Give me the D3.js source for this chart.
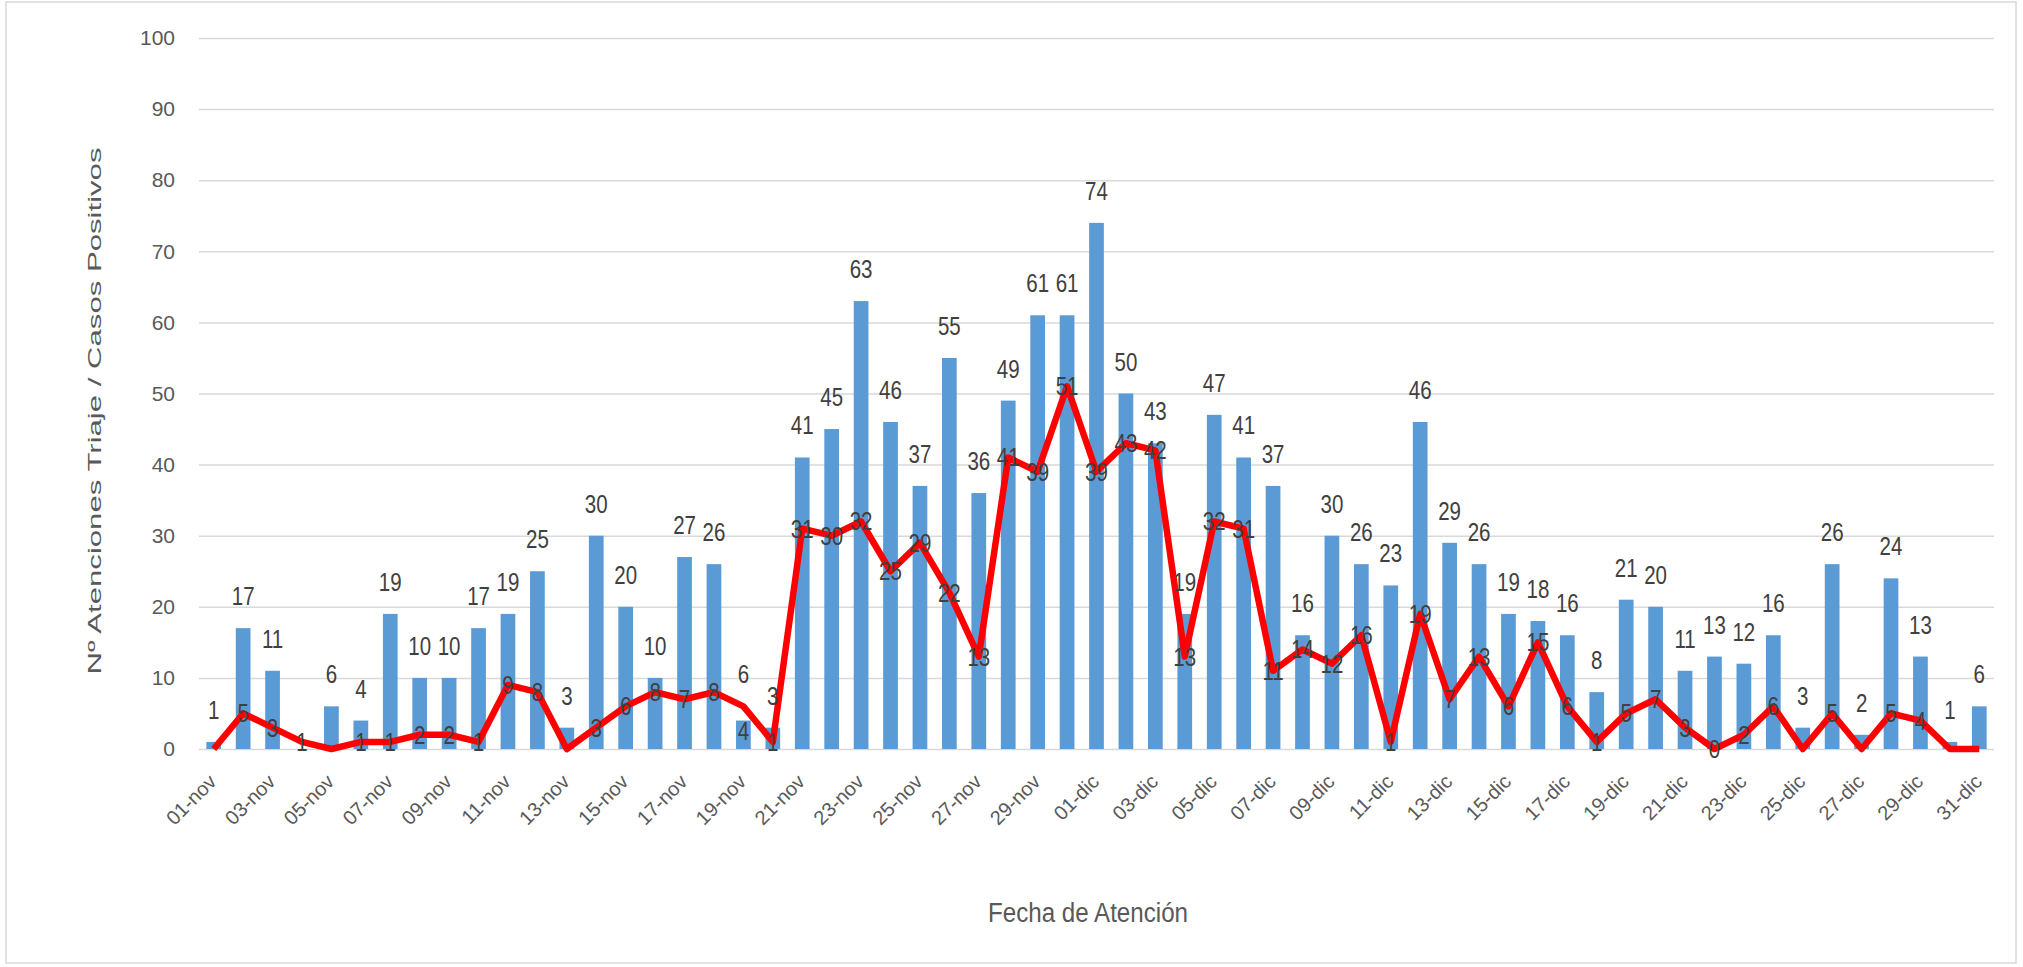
<!DOCTYPE html>
<html>
<head>
<meta charset="utf-8">
<script src="https://cdn.jsdelivr.net/npm/d3@7"></script>
<style>
  body { margin: 0; background: #fff; }
  svg { display: block; }
</style>
</head>
<body>
<svg width="2023" height="967"></svg>
<script>
// dias de atencion
const days = [
  "01-nov","02-nov","03-nov","04-nov","05-nov","06-nov","07-nov","08-nov","09-nov","10-nov",
  "11-nov","12-nov","13-nov","14-nov","15-nov","16-nov","17-nov","18-nov","19-nov","20-nov",
  "21-nov","22-nov","23-nov","24-nov","25-nov","26-nov","27-nov","28-nov","29-nov","30-nov",
  "01-dic","02-dic","03-dic","04-dic","05-dic","06-dic","07-dic","08-dic","09-dic","10-dic",
  "11-dic","12-dic","13-dic","14-dic","15-dic","16-dic","17-dic","18-dic","19-dic","20-dic",
  "21-dic","22-dic","23-dic","24-dic","25-dic","26-dic","27-dic","28-dic","29-dic","30-dic","31-dic"
];
// atenciones triaje (barras)
const atenciones = [
  1,17,11,0,6,4,19,10,10,17,
  19,25,3,30,20,10,27,26,4,3,
  41,45,63,46,37,55,36,49,61,61,
  74,50,43,19,47,41,37,16,30,26,
  23,46,29,26,19,18,16,8,21,20,
  11,13,12,16,3,26,2,24,13,1,6
];
// casos positivos (linea)
const positivos = [
  0,5,3,1,0,1,1,2,2,1,
  9,8,0,3,6,8,7,8,6,1,
  31,30,32,25,29,22,13,41,39,51,
  39,43,42,13,32,31,11,14,12,16,
  1,19,7,13,6,15,6,1,5,7,
  3,0,2,6,0,5,0,5,4,0,0
];
const zeroLabelDays = ["22-dic"];
const yTicks = [0,10,20,30,40,50,60,70,80,90,100];

const svg = d3.select("svg");
const plotLeft = 199, plotRight = 1994, plotTop = 38, plotBottom = 749;
const font = "'Liberation Sans', Arial, sans-serif";

svg.append("rect")
  .attr("x", 6).attr("y", 2).attr("width", 2010).attr("height", 961)
  .attr("fill", "#fff").attr("stroke", "#d9d9d9").attr("stroke-width", 1.5);

const x = d3.scaleBand().domain(days).range([plotLeft, plotRight])
  .paddingInner(0.5).paddingOuter(0.25);
const y = d3.scaleLinear().domain([0, 100]).range([plotBottom, plotTop]);
const cx = i => x(days[i]) + x.bandwidth() / 2;

// grid + y labels
const yAxis = d3.axisLeft(y).tickValues(yTicks).tickSize(-(plotRight - plotLeft)).tickPadding(24);
const gy = svg.append("g").attr("transform", `translate(${plotLeft},0)`).call(yAxis);
gy.select(".domain").remove();
gy.selectAll(".tick line").attr("stroke", "#d9d9d9").attr("stroke-width", 1.5);
gy.selectAll(".tick text")
  .attr("fill", "#595959")
  .style("font-family", font)
  .style("font-size", "21px");

// x labels
const xAxis = d3.axisBottom(x).tickValues(days.filter((d, i) => i % 2 == 0)).tickSize(0);
const gx = svg.append("g").attr("transform", `translate(0,${plotBottom})`).call(xAxis);
gx.select(".domain").remove();
gx.selectAll(".tick text")
  .attr("fill", "#595959")
  .style("font-family", font)
  .style("font-size", "20px")
  .attr("text-anchor", "end")
  .attr("dy", "0.35em").attr("y", null)
  .attr("transform", "translate(-1,29) rotate(-45)");

// bars
svg.append("g").selectAll("rect")
  .data(atenciones)
  .enter().append("rect")
  .attr("x", (d, i) => x(days[i]))
  .attr("y", d => y(d))
  .attr("width", x.bandwidth())
  .attr("height", d => plotBottom - y(d))
  .attr("fill", "#5b9bd5");

// line
const line = d3.line()
  .x((d, i) => cx(i))
  .y(d => y(d));
svg.append("path")
  .datum(positivos)
  .attr("d", line)
  .attr("fill", "none")
  .attr("stroke", "#ff0000")
  .attr("stroke-width", 6.5)
  .attr("stroke-linejoin", "round");

// etiquetas: barra encima de la barra, linea centrada en el punto
// (si chocan, la de la linea sube y la de la barra entra en la barra)
const labels = [];
atenciones.forEach((d, i) => {
  const b = d > 0 ? { i: i, v: d, cy: y(d) - 32 } : null;
  const p = positivos[i];
  const l = (p != 0 || zeroLabelDays.indexOf(days[i]) >= 0) ? { i: i, v: p, cy: y(p) } : null;
  if (b && l && Math.abs(b.cy - l.cy) < 25) {
    l.cy = y(p) - 32;
    b.cy = y(d) + 10;
  }
  if (b) labels.push(b);
  if (l) labels.push(l);
});

svg.append("g").selectAll("text")
  .data(labels)
  .enter().append("text")
  .attr("transform", d => `translate(${cx(d.i)},${d.cy + 9}) scale(0.82,1)`)
  .attr("text-anchor", "middle")
  .attr("fill", "#404040")
  .style("font-family", font)
  .style("font-size", "25px")
  .text(d => d.v);

// axis titles
svg.append("text")
  .attr("x", 1088).attr("y", 922)
  .attr("text-anchor", "middle")
  .attr("fill", "#595959")
  .style("font-family", font)
  .style("font-size", "27px")
  .attr("textLength", 200)
  .attr("lengthAdjust", "spacingAndGlyphs")
  .text("Fecha de Atención");

svg.append("text")
  .attr("transform", "translate(101,411) rotate(-90)")
  .attr("text-anchor", "middle")
  .attr("fill", "#595959")
  .style("font-family", font)
  .style("font-size", "19px")
  .attr("textLength", 527)
  .attr("lengthAdjust", "spacingAndGlyphs")
  .text("Nº Atenciones Triaje  / Casos Positivos");
</script>
</body>
</html>
